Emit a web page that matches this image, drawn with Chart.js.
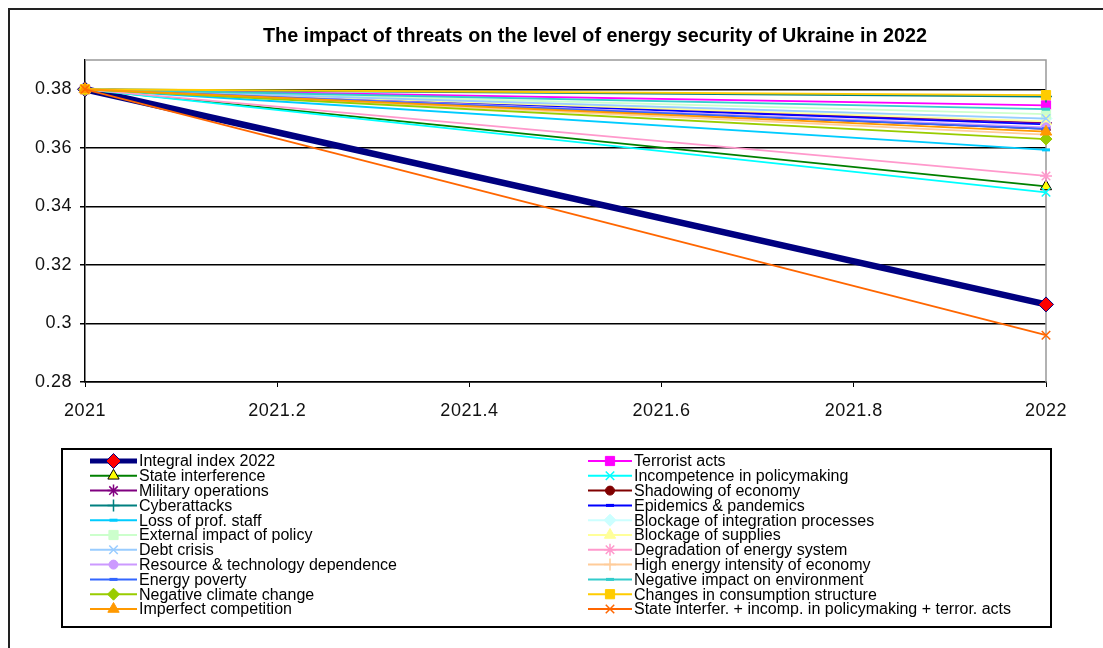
<!DOCTYPE html>
<html>
<head>
<meta charset="utf-8">
<script src="https://cdn.jsdelivr.net/npm/chart.js@4.4.1/dist/chart.umd.min.js"></script>
<style>
html,body{margin:0;padding:0;background:#fff;}
canvas{display:block;}
</style>
</head>
<body>
<canvas id="c" width="1103" height="648"></canvas>
<script>
// ---- data ----
const chartTitle = 'The impact of threats on the level of energy security of Ukraine in 2022';
const years = [2021, 2022];
const xTickValues = [2021, 2021.2, 2021.4, 2021.6, 2021.8, 2022];
const yTickValues = [0.28, 0.30, 0.32, 0.34, 0.36, 0.38];
const seriesNames = [
  'Integral index 2022', 'Terrorist acts',
  'State interference', 'Incompetence in policymaking',
  'Military operations', 'Shadowing of economy',
  'Cyberattacks', 'Epidemics & pandemics',
  'Loss of prof. staff', 'Blockage of integration processes',
  'External impact of policy', 'Blockage of supplies',
  'Debt crisis', 'Degradation of energy system',
  'Resource & technology dependence', 'High energy intensity of economy',
  'Energy poverty', 'Negative impact on environment',
  'Negative climate change', 'Changes in consumption structure',
  'Imperfect competition', 'State interfer. + incomp. in policymaking + terror. acts'
];
const values2021 = [0.38,0.38,0.38,0.38,0.38,0.38,0.38,0.38,0.38,0.38,0.38,0.38,0.38,0.38,0.38,0.38,0.38,0.38,0.38,0.38,0.38,0.38];
const values2022 = [
  0.3065, 0.3745,
  0.3468, 0.3448,
  0.3685, 0.3665,
  0.3775, 0.3680,
  0.3593, 0.3700,
  0.3715, 0.3690,
  0.3700, 0.3504,
  0.3670, 0.3645,
  0.3665, 0.3732,
  0.3630, 0.3780,
  0.3655, 0.2960
];

// ---- styles ----
const lineColors = ['#000080','#FF00FF','#008000','#00FFFF','#800080','#800000','#008080','#0000FF','#00CCFF','#CCFFFF','#CCFFCC','#FFFF99','#99CCFF','#FF99CC','#CC99FF','#FFCC99','#3366FF','#33CCCC','#99CC00','#FFCC00','#FF9900','#FF6600'];
const markerFill = ['#FF0000','#FF00FF','#FFFF00','#00FFFF','#800080','#800000','#008080','#0000FF','#00CCFF','#CCFFFF','#CCFFCC','#FFFF99','#99CCFF','#FF99CC','#CC99FF','#FFCC99','#3366FF','#33CCCC','#99CC00','#FFCC00','#FF9900','#FF6600'];
const markerBorder = ['#000080','#FF00FF','#000000','#00FFFF','#800080','#800000','#008080','#0000FF','#00CCFF','#CCFFFF','#CCFFCC','#FFFF99','#99CCFF','#FF99CC','#CC99FF','#FFCC99','#3366FF','#33CCCC','#99CC00','#FFCC00','#FF9900','#FF6600'];
const markerStyle = ['rectRot','rect','triangle','crossRot','star','circle','cross','line','line','rectRot','rect','triangle','crossRot','star','circle','cross','line','line','rectRot','rect','triangle','crossRot'];
const FONT = "'Liberation Sans', Arial, sans-serif";

function markerRadius(i){
  const s = markerStyle[i];
  if (i === 0) return 7.5;
  if (s === 'rect') return 6.5;
  if (s === 'line') return 4;
  if (s === 'circle') return 4.5;
  if (s === 'triangle') return 6.5;
  return 6;
}
function markerBW(i){
  const s = markerStyle[i];
  if (s === 'line') return 3;
  if (s === 'crossRot' || s === 'cross' || s === 'star') return 1.5;
  return 1;
}

const datasets = seriesNames.map((name, i) => ({
  label: name,
  data: years.map((yr, k) => ({x: yr, y: (k === 0 ? values2021 : values2022)[i]})),
  borderColor: lineColors[i],
  borderWidth: i === 0 ? 6.5 : 1.8,
  pointStyle: markerStyle[i],
  pointRadius: markerRadius(i),
  pointBackgroundColor: markerFill[i],
  pointBorderColor: markerBorder[i],
  pointBorderWidth: markerBW(i),
  tension: 0,
  fill: false,
  clip: false,
  order: seriesNames.length - i
}));

const framePlugin = {
  id: 'frame',
  beforeLayout(chart){ chart.ctx.letterSpacing = '0.5px'; },
  beforeDraw(chart){
    const ctx = chart.ctx;
    ctx.letterSpacing = '0.5px';
    ctx.save();
    ctx.fillStyle = '#fff';
    ctx.fillRect(0,0,chart.width,chart.height);
    ctx.strokeStyle = '#222';
    ctx.lineWidth = 2;
    ctx.strokeRect(9, 9, 1100, 700);
    ctx.restore();
  },
  beforeDatasetsDraw(chart){
    const {ctx, chartArea: a} = chart;
    ctx.save();
    ctx.strokeStyle = '#999';
    ctx.lineWidth = 1.5;
    ctx.beginPath();
    ctx.moveTo(a.left, a.top);
    ctx.lineTo(a.right, a.top);
    ctx.lineTo(a.right, a.bottom);
    ctx.stroke();
    ctx.restore();
  },
  afterDraw(chart){
    const ctx = chart.ctx;
    // title
    ctx.save();
    ctx.letterSpacing = '0px';
    ctx.font = 'bold 21px ' + FONT;
    ctx.fillStyle = '#000';
    ctx.textBaseline = 'middle';
    ctx.textAlign = 'center';
    const w = ctx.measureText(chartTitle).width;
    const sx = 664 / w;
    ctx.translate(595, 36);
    ctx.scale(sx, 1);
    ctx.fillText(chartTitle, 0, 0);
    ctx.restore();

    // legend
    ctx.save();
    ctx.letterSpacing = '0px';
    ctx.strokeStyle = '#000';
    ctx.lineWidth = 2;
    ctx.strokeRect(62, 449, 989, 178);
    const colLine = [[90,137],[588,632]];
    const colText = [139, 634];
    ctx.font = '16px ' + FONT;
    ctx.textBaseline = 'middle';
    ctx.textAlign = 'left';
    chart.data.datasets.forEach((ds, i) => {
      const col = i % 2, row = Math.floor(i / 2);
      const y = 461 + row * 14.8;
      const [x0, x1] = colLine[col];
      ctx.save();
      ctx.strokeStyle = ds.borderColor;
      ctx.lineWidth = i === 0 ? 5 : 2;
      ctx.beginPath();
      ctx.moveTo(x0, y); ctx.lineTo(x1, y);
      ctx.stroke();
      ctx.fillStyle = ds.pointBackgroundColor;
      ctx.strokeStyle = ds.pointBorderColor;
      ctx.lineWidth = ds.pointBorderWidth;
      Chart.helpers.drawPoint(ctx, {pointStyle: ds.pointStyle, radius: ds.pointRadius, borderWidth: ds.pointBorderWidth, rotation: 0}, (x0 + x1) / 2, y);
      ctx.restore();
      ctx.fillStyle = '#000';
      ctx.fillText(ds.label, colText[col], y + 1);
    });
    ctx.restore();
  }
};

new Chart(document.getElementById('c'), {
  type: 'line',
  data: { datasets },
  options: {
    responsive: false,
    animation: false,
    devicePixelRatio: 1,
    layout: { padding: { left: 0, top: 60, right: 57, bottom: 226 } },
    plugins: { legend: { display: false }, title: { display: false }, tooltip: { enabled: false } },
    scales: {
      x: {
        type: 'linear',
        min: years[0], max: years[1],
        afterFit(s){ s.height = 40; },
        afterBuildTicks(s){ s.ticks = xTickValues.map(v => ({value: v})); },
        grid: { drawOnChartArea: false, drawTicks: true, tickLength: 5, color: '#000', lineWidth: 1 },
        border: { color: '#000', width: 1.5 },
        ticks: {
          color: '#111', padding: 13, maxRotation: 0, autoSkip: false,
          font: { family: FONT, size: 18 },
          callback: v => String(+(+v).toFixed(1))
        }
      },
      y: {
        type: 'linear',
        min: 0.28, max: 0.39,
        afterFit(s){ s.width = 85; },
        afterBuildTicks(s){ s.ticks = yTickValues.map(v => ({value: v})); },
        grid: { color: '#000', lineWidth: 1.5, tickLength: 5, drawTicks: true },
        border: { color: '#000', width: 1.5 },
        ticks: {
          color: '#111', padding: 8,
          font: { family: FONT, size: 18 },
          callback: v => String(+(+v).toFixed(2))
        }
      }
    }
  },
  plugins: [framePlugin]
});
</script>
</body>
</html>
